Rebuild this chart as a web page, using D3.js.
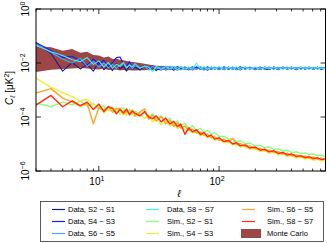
<!DOCTYPE html>
<html>
<head>
<meta charset="utf-8">
<script src="https://cdn.jsdelivr.net/npm/d3@7"></script>
<style>
  html, body { margin: 0; padding: 0; background: #fff; }
  svg { display: block; font-family: "Liberation Sans", Arial, sans-serif; }
</style>
</head>
<body>
<svg id="chart" width="327" height="243"></svg>
<script>
const ells = [3,4,5,6,7,8,9,10,11,12,13,14,15,16,17,18,19,20,22,24,26,28,30,33,36,39,42,45,48,52,56,60,65,70,75,80,86,92,100,110,120,130,140,150,165,180,200,220,240,260,285,310,340,370,400,440,480,520,560,610,660,710,768];

// log10(C_l) per series
const dataS2S1 = [-1.26,-1.65,-2.30,-1.98,-2.22,-2.05,-2.30,-1.95,-2.25,-2.10,
  -2.28,-2.02,-2.22,-2.12,-2.30,-2.08,-2.24,-2.15,-2.26,-2.10,
  -2.24,-2.14,-2.28,-2.12,-2.26,-2.15,-2.27,-2.13,-2.24,-2.16,
  -2.26,-2.14,-2.23,-2.15,-2.26,-2.14,-2.24,-2.16,-2.25,-2.14,
  -2.24,-2.16,-2.25,-2.14,-2.23,-2.16,-2.25,-2.15,-2.23,-2.24,
  -2.15,-2.24,-2.16,-2.23,-2.15,-2.24,-2.16,-2.23,-2.15,-2.23,
  -2.16,-2.24,-2.17];
const dataS4S3 = [-1.24,-1.55,-1.80,-1.75,-1.92,-2.10,-1.85,-2.05,-1.90,-2.15,
  -1.98,-1.80,-1.78,-2.05,-2.12,-1.95,-2.18,-2.02,-2.20,-2.08,
  -2.24,-2.10,-2.22,-2.26,-2.12,-2.24,-2.14,-2.27,-2.15,-2.24,
  -2.16,-2.26,-2.14,-2.24,-2.16,-2.27,-2.15,-2.23,-2.16,-2.25,
  -2.15,-2.24,-2.16,-2.26,-2.15,-2.23,-2.17,-2.25,-2.15,-2.24,
  -2.16,-2.25,-2.15,-2.23,-2.17,-2.25,-2.16,-2.23,-2.17,-2.24,
  -2.16,-2.24,-2.18];
const dataS6S5 = [-1.30,-1.60,-1.85,-2.00,-1.82,-2.12,-1.95,-2.15,-2.00,-2.18,
  -2.05,-2.20,-2.08,-1.98,-2.16,-2.06,-2.22,-2.10,-2.18,-2.12,
  -2.26,-2.12,-2.22,-2.14,-2.25,-2.13,-2.23,-2.15,-2.26,-2.14,
  -2.24,-2.15,-2.23,-2.14,-2.25,-2.15,-2.23,-2.16,-2.24,-2.14,
  -2.23,-2.15,-2.24,-2.16,-2.23,-2.15,-2.24,-2.16,-2.23,-2.15,
  -2.24,-2.16,-2.23,-2.15,-2.23,-2.16,-2.24,-2.15,-2.23,-2.16,
  -2.23,-2.15,-2.21];
const dataS8S7 = [-1.35,-1.58,-1.72,-1.88,-1.95,-1.80,-2.05,-1.92,-2.15,-1.98,
  -2.20,-2.05,-2.12,-2.00,-2.18,-2.08,-2.14,-2.02,-2.20,-2.10,
  -2.16,-2.32,-2.12,-2.24,-2.13,-2.22,-2.12,-2.26,-2.14,-2.23,
  -2.15,-2.24,-2.00,-2.22,-2.14,-2.24,-2.15,-2.22,-2.14,-2.23,
  -2.16,-2.23,-2.14,-2.24,-2.16,-2.22,-2.15,-2.23,-2.16,-2.22,
  -2.15,-2.23,-2.17,-2.22,-2.15,-2.23,-2.16,-2.22,-2.15,-2.23,
  -2.16,-2.22,-2.18];
const simS2S1 = [-3.48,-3.62,-3.45,-3.55,-3.40,-3.62,-3.50,-3.70,-3.58,-3.76,
  -3.64,-3.80,-3.70,-3.66,-3.85,-3.72,-3.88,-3.78,-3.92,-3.84,
  -4.02,-3.88,-4.07,-3.96,-4.16,-4.04,-4.26,-4.14,-4.32,-4.24,
  -4.42,-4.33,-4.50,-4.42,-4.58,-4.50,-4.64,-4.58,-4.72,-4.72,
  -4.82,-4.80,-4.91,-4.88,-4.99,-4.97,-5.07,-5.05,-5.14,-5.11,
  -5.20,-5.17,-5.26,-5.23,-5.31,-5.29,-5.36,-5.33,-5.40,-5.37,
  -5.44,-5.41,-5.47];
const simS4S3 = [-2.56,-2.90,-3.10,-3.25,-3.40,-3.35,-3.55,-3.60,-3.85,-3.70,
  -3.80,-3.65,-3.90,-3.75,-3.95,-3.80,-3.92,-3.98,-3.90,-4.05,
  -3.93,-4.18,-4.06,-4.28,-4.15,-4.33,-4.25,-4.43,-4.32,-4.49,
  -4.47,-4.59,-4.55,-4.69,-4.62,-4.77,-4.74,-4.86,-4.82,-4.95,
  -4.92,-5.03,-5.00,-5.11,-5.08,-5.20,-5.16,-5.28,-5.24,-5.34,
  -5.31,-5.40,-5.37,-5.46,-5.43,-5.52,-5.48,-5.56,-5.53,-5.60,
  -5.57,-5.62,-5.61];
const simS6S5 = [-3.11,-2.95,-3.30,-3.45,-3.60,-3.50,-4.25,-3.65,-3.75,-3.60,
  -3.82,-3.70,-3.68,-3.90,-3.78,-3.86,-3.74,-3.95,-3.82,-3.70,
  -4.08,-3.92,-4.15,-3.98,-4.25,-4.12,-4.35,-4.21,-4.41,-4.33,
  -4.49,-4.45,-4.60,-4.55,-4.68,-4.63,-4.77,-4.73,-4.86,-4.82,
  -4.93,-4.79,-5.01,-4.98,-5.10,-5.07,-5.18,-5.16,-5.25,-5.22,
  -5.31,-5.28,-5.37,-5.34,-5.43,-5.40,-5.48,-5.44,-5.52,-5.48,
  -5.56,-5.52,-5.58];
const simS8S7 = [-3.56,-3.20,-3.62,-3.40,-3.58,-3.45,-3.72,-3.52,-3.80,-3.62,
  -3.68,-3.88,-3.72,-3.84,-3.70,-3.92,-3.78,-3.86,-3.96,-3.80,
  -4.00,-4.06,-3.96,-4.18,-4.04,-4.26,-4.16,-4.36,-4.26,-4.64,
  -4.40,-4.55,-4.47,-4.65,-4.57,-4.73,-4.67,-4.82,-4.77,-4.91,
  -4.87,-5.00,-4.95,-5.07,-5.03,-5.15,-5.11,-5.23,-5.19,-5.29,
  -5.25,-5.35,-5.31,-5.41,-5.37,-5.47,-5.43,-5.51,-5.47,-5.55,
  -5.51,-5.58,-5.55];
// Monte Carlo envelope, log10
const mcUpper = [-1.37,-1.42,-1.55,-1.48,-1.62,-1.58,-1.70,-1.72,-1.80,-1.76,
  -1.85,-1.84,-1.88,-1.90,-1.93,-1.94,-1.96,-1.97,-2.00,-2.03,
  -2.06,-2.08,-2.10,-2.11,-2.12,-2.13,-2.13,-2.14,-2.14,-2.15,
  -2.15,-2.15,-2.16,-2.16,-2.16,-2.16,-2.17,-2.17,-2.17,-2.17,
  -2.17,-2.17,-2.17,-2.17,-2.17,-2.17,-2.17,-2.17,-2.17,-2.17,
  -2.17,-2.17,-2.17,-2.17,-2.17,-2.17,-2.17,-2.17,-2.17,-2.17,
  -2.17,-2.17,-2.17];
const mcLower = [-2.33,-2.25,-2.22,-2.20,-2.18,-2.20,-2.22,-2.24,-2.20,-2.26,
  -2.24,-2.25,-2.28,-2.26,-2.28,-2.27,-2.28,-2.28,-2.27,-2.27,
  -2.26,-2.26,-2.25,-2.25,-2.25,-2.24,-2.24,-2.24,-2.23,-2.23,
  -2.23,-2.23,-2.22,-2.22,-2.22,-2.22,-2.22,-2.22,-2.22,-2.22,
  -2.22,-2.22,-2.22,-2.22,-2.22,-2.22,-2.22,-2.22,-2.22,-2.22,
  -2.22,-2.22,-2.22,-2.22,-2.22,-2.22,-2.22,-2.22,-2.22,-2.22,
  -2.22,-2.22,-2.22];

const seriesNames = ["Data, S2 \u2212 S1","Data, S4 \u2212 S3","Data, S6 \u2212 S5","Data, S8 \u2212 S7",
  "Sim., S2 \u2212 S1","Sim., S4 \u2212 S3","Sim., S6 \u2212 S5","Sim., S8 \u2212 S7"];
const seriesValues = [dataS2S1, dataS4S3, dataS6S5, dataS8S7, simS2S1, simS4S3, simS6S5, simS8S7];
const seriesColors = ["#1c1c8e","#1a1aff","#4aa8ff","#3cf5e6","#86ff80","#eeee3a","#ffa424","#ff2a10"];
const mcColor = "#9c4646";
const xMajor = [10, 100];
const xMinor = [3,4,5,6,7,8,9,20,30,40,50,60,70,80,90,200,300,400,500,600,700];
const yTicks = [0, -2, -4, -6];

const svg = d3.select("#chart");
const L = 36, R = 325.5, T = 9, B = 171;
const x = d3.scaleLog().domain([3, 768]).range([L, R]);
const y = d3.scaleLog().domain([1e-6, 1]).range([B, T]);
const p10 = v => Math.pow(10, v);

svg.append("defs").append("clipPath").attr("id", "clip")
  .append("rect").attr("x", L).attr("y", T).attr("width", R - L).attr("height", B - T);
const plot = svg.append("g").attr("clip-path", "url(#clip)");

// Monte Carlo band
const band = ells.map((l, i) => ({ l, lo: p10(mcLower[i]), hi: p10(mcUpper[i]) }));
plot.append("path").datum(band)
  .attr("fill", mcColor)
  .attr("d", d3.area().x(d => x(d.l)).y0(d => y(d.lo)).y1(d => y(d.hi)));

const line = d3.line().x(d => x(d.l)).y(d => y(d.v));
seriesValues.forEach((vals, k) => {
  plot.append("path")
    .datum(ells.map((l, i) => ({ l, v: p10(vals[i]) })))
    .attr("fill", "none")
    .attr("stroke", seriesColors[k])
    .attr("stroke-width", k >= 4 ? 1.4 : 1.1)
    .attr("stroke-linejoin", "round")
    .attr("d", line);
});

// frame
svg.append("rect").attr("x", L).attr("y", T).attr("width", R - L).attr("height", B - T)
  .attr("fill", "none").attr("stroke", "#000").attr("stroke-width", 1);

// ticks, pointing inward on all sides
const ticks = svg.append("g").attr("stroke", "#000").attr("stroke-width", 0.8);
xMajor.concat(xMinor).forEach(v => {
  const len = xMajor.includes(v) ? 5 : 2.5;
  ticks.append("line").attr("x1", x(v)).attr("x2", x(v)).attr("y1", B).attr("y2", B - len);
  ticks.append("line").attr("x1", x(v)).attr("x2", x(v)).attr("y1", T).attr("y2", T + len);
});
yTicks.forEach(e => {
  ticks.append("line").attr("x1", L).attr("x2", L + 5).attr("y1", y(p10(e))).attr("y2", y(p10(e)));
  ticks.append("line").attr("x1", R).attr("x2", R - 5).attr("y1", y(p10(e))).attr("y2", y(p10(e)));
});

// x tick labels
xMajor.forEach(v => {
  const t = svg.append("text").attr("x", x(v) - 2).attr("y", 185)
    .attr("text-anchor", "middle").attr("font-size", 10).attr("fill", "#000");
  t.append("tspan").text("10");
  t.append("tspan").attr("dy", -4).attr("font-size", 7).text(String(Math.log10(v)));
});

// y tick labels, rotated
yTicks.forEach(e => {
  const t = svg.append("text")
    .attr("transform", `translate(29,${y(p10(e))}) rotate(-90)`)
    .attr("text-anchor", "middle").attr("font-size", 10).attr("fill", "#000");
  t.append("tspan").text("10");
  t.append("tspan").attr("dy", -4).attr("font-size", 7).text(e === 0 ? "0" : "\u2212" + (-e));
});

// axis titles
const yt = svg.append("text").attr("transform", "translate(13,88) rotate(-90)")
  .attr("text-anchor", "middle").attr("font-size", 10).attr("fill", "#000");
yt.append("tspan").attr("font-style", "italic").text("C");
yt.append("tspan").attr("font-size", 7).attr("font-style", "italic").attr("dy", 2).text("\u2113");
yt.append("tspan").attr("dy", -2).text(" [\u03bcK");
yt.append("tspan").attr("font-size", 7).attr("dy", -4).text("2");
yt.append("tspan").attr("dy", 4).text("]");

svg.append("text").attr("x", 179).attr("y", 197).attr("text-anchor", "middle")
  .attr("font-size", 10).attr("font-style", "italic").text("\u2113");

// legend
const lg = svg.append("g");
lg.append("rect").attr("x", 40.5).attr("y", 201.5).attr("width", 283).attr("height", 40)
  .attr("fill", "#fff").attr("stroke", "#333").attr("stroke-width", 0.8);
const colX = [52, 146, 242];
const rowY = [209.5, 221.5, 233.5];
const entries = seriesNames.map((n, k) => ({ name: n, color: seriesColors[k], patch: false }))
  .concat([{ name: "Monte Carlo", color: mcColor, patch: true }]);
entries.forEach((e, k) => {
  const c = Math.floor(k / 3), r = k % 3;
  const x0 = colX[c], y0 = rowY[r];
  if (e.patch) {
    lg.append("rect").attr("x", x0 - 1).attr("y", y0 - 4.5).attr("width", 20).attr("height", 9)
      .attr("fill", e.color);
  } else {
    lg.append("line").attr("x1", x0).attr("x2", x0 + 13).attr("y1", y0).attr("y2", y0)
      .attr("stroke", e.color).attr("stroke-width", 1.2);
  }
  lg.append("text").attr("x", x0 + (c === 1 ? 21 : 16) + (c === 2 ? 9 : 0)).attr("y", y0 + 2.5)
    .attr("font-size", 7.5).attr("fill", "#000").text(e.name);
});
</script>
</body>
</html>
